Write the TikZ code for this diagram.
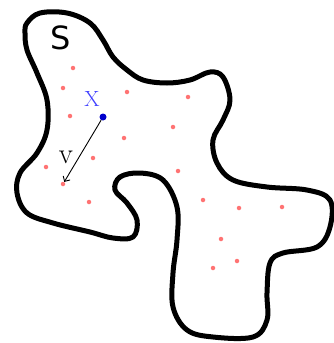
\documentclass[tikz,border=0pt]{standalone}
\usepackage{fontspec}
\newfontfamily\sansS{DejaVu Sans}
\usetikzlibrary{arrows.meta}
\begin{document}
\begin{tikzpicture}[x=1pt,y=-1pt,
  outline/.style={line width=5pt,line join=round},
  reddot/.style={circle,fill=red!55!white,inner sep=0pt,minimum size=4.5pt},
  bluedot/.style={circle,fill=blue!80!black,inner sep=0pt,minimum size=7pt},
  lbl/.style={inner sep=0pt}]
\useasboundingbox (0,0) rectangle (334,343);
\draw[outline] plot[smooth cycle,tension=0.6] coordinates {
 (27,23) (40,13) (67,13) (90,23) (103,40) (113,57) (127,70) (143,80) (167,83)
 (190,80) (210,72) (223,77) (230,100) (223,120) (213,140) (217,163) (233,180)
 (267,187) (307,190) (330,200) (330,227) (317,247) (283,253) (270,263) (267,293)
 (267,320) (253,337) (213,337) (187,330) (173,307) (173,273) (177,240) (177,207)
 (163,180) (140,173) (120,177) (115,190) (127,203) (137,220) (133,237) (113,238)
 (90,232) (53,223) (27,213) (17,193) (20,173) (37,153) (47,130) (47,100) (37,73)
 (27,50) (25,33)};
\foreach \p [count=\i] in {(73,68),(63,88),(127,92),(188,97),(70,116),(173,127),(124,138),(93,158),(46,167),(178,171),(63,184),(89,202),(203,200),(239,208),(282,207),(221,239),(237,261),(213,268)}
  \node[reddot] (r\i) at \p {};
\node[bluedot] (x) at (103,117) {};
\node[lbl,text=blue!75!white,font=\fontsize{22}{22}\selectfont] (xl) at (92,99) {X};
\node[lbl,font=\fontsize{29}{29}\selectfont] (vl) at (66,157) {v};
\node[lbl,font=\sansS\fontsize{32}{32}\selectfont] (s) at (61,38) {S};
\draw[-{Straight Barb[length=4pt,width=8pt]},line width=0.9pt] (x) -- (r11);
\end{tikzpicture}
\end{document}
